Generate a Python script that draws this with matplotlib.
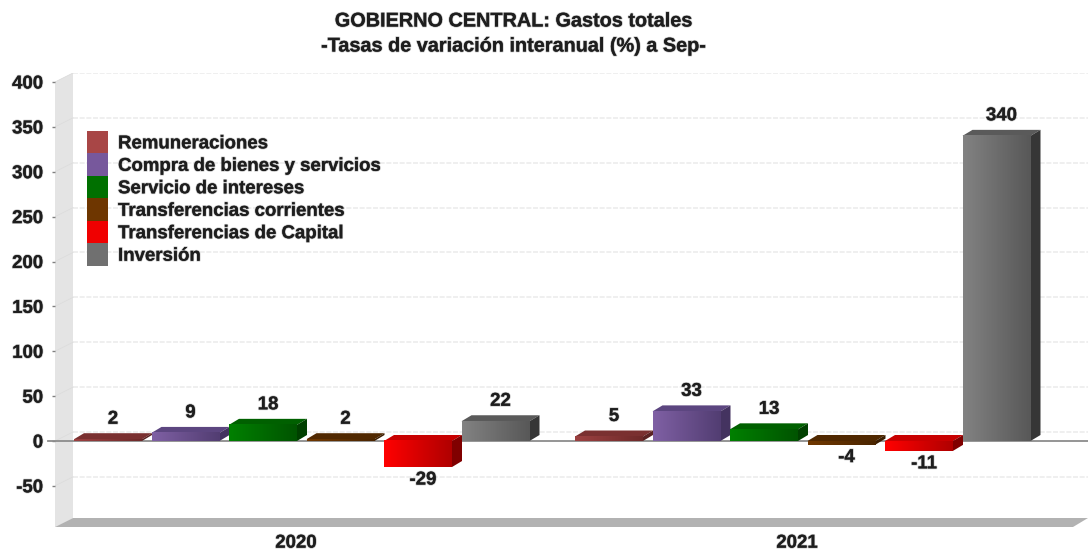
import matplotlib
matplotlib.use("Agg")
import matplotlib.pyplot as plt
import matplotlib.patheffects as pe
from matplotlib.colors import LinearSegmentedColormap
from matplotlib.patches import Patch
import numpy as np

plt.rcParams['font.family'] = ['Liberation Sans', 'DejaVu Sans']

years = ['2020', '2021']
categories = ['Remuneraciones', 'Compra de bienes y servicios', 'Servicio de intereses',
              'Transferencias corrientes', 'Transferencias de Capital', 'Inversión']
values_2020 = [2, 9, 18, 2, -29, 22]
values_2021 = [5, 33, 13, -4, -11, 340]
yticks = [-50, 0, 50, 100, 150, 200, 250, 300, 350, 400]

# light, dark (front gradient), side, top
light = ['#9c4040', '#7f60a4', '#008000', '#703800', '#ff0000', '#828282']
dark = ['#6e2a2a', '#523d72', '#005400', '#4a2500', '#b00000', '#585858']
side = ['#5a2222', '#443360', '#004000', '#3a1c00', '#800000', '#363636']
top = ['#7a3030', '#5c4680', '#006000', '#502800', '#c80000', '#5a5a5a']
legend_col = ['#a84646', '#77589c', '#007000', '#6e3600', '#f00000', '#707070']

W, H = 1088, 550
L, R, T, B = 55, 1088, 73, 527
px_y = 0.8975
px_x = 501
x0_px, y0_px = 296, 441

fig = plt.figure(figsize=(W / 100, H / 100), dpi=100, facecolor='white')
ax = fig.add_axes([L / W, 1 - B / H, (R - L) / W, (B - T) / H])
xlim = ((L - x0_px) / px_x, (R - x0_px) / px_x)
ylim = ((y0_px - B) / px_y, (y0_px - T) / px_y)

# depth of the box and of the bars, in data units
wall_dx, wall_dy = 18 / px_x, 9 / px_y
bar_dx, bar_dy = 10 / px_x, 6 / px_y
bar_w = 68 / px_x
pitch = 77.5 / px_x
first = -222 / px_x
label_dx = 5 / px_x

# walls
ax.fill([xlim[0], xlim[0] + wall_dx, xlim[0] + wall_dx, xlim[0]],
        [ylim[0], ylim[0] + wall_dy, 400 + wall_dy, 400], color='#e4e4e4', lw=0, zorder=1)
ax.fill([xlim[0], xlim[0] + wall_dx, xlim[1], xlim[1] - 15 / px_x],
        [ylim[0], ylim[0] + wall_dy, ylim[0] + wall_dy, ylim[0]], color='#b2b2b2', lw=0, zorder=1)
for v in yticks:
    ax.plot([xlim[0] + wall_dx, xlim[1]], [v + wall_dy, v + wall_dy], color='#ececec', lw=1.2,
            ls=(0, (3, 1)), zorder=1)
    ax.plot([xlim[0], xlim[0] + wall_dx], [v, v + wall_dy], color='#dcdcdc', lw=0.6, zorder=1)

# zero line
ax.plot([xlim[0] - 7 / px_x, xlim[1]], [0, 0], color='#8c8c8c', lw=1.3, zorder=2, clip_on=False)

txt_fx = [pe.withStroke(linewidth=1.2, foreground='#00000038')]
FS = 13.4

for g, vals in enumerate([values_2020, values_2021]):
    for i, v in enumerate(vals):
        x = g + first + i * pitch
        hi = max(v, 0)
        lo = min(v, 0)
        # top face and side face
        ax.fill([x, x + bar_dx, x + bar_w + bar_dx, x + bar_w],
                [hi, hi + bar_dy, hi + bar_dy, hi], color=top[i], lw=0, zorder=3)
        ax.fill([x + bar_w, x + bar_w + bar_dx, x + bar_w + bar_dx, x + bar_w],
                [lo, lo + bar_dy, hi + bar_dy, hi], color=side[i], lw=0, zorder=3)
        # front face
        ax.bar(x, v, width=bar_w, align='edge', color=light[i], lw=0, zorder=4)
        cmap = LinearSegmentedColormap.from_list('f', [light[i], dark[i]])
        ax.imshow(np.linspace(0, 1, 64).reshape(1, -1), cmap=cmap, aspect='auto',
                  extent=(x, x + bar_w, lo, hi), zorder=4.5, interpolation='bilinear')
        # value label
        if v >= 0:
            ax.annotate(str(v), (x + bar_w / 2 + label_dx, hi + bar_dy), xytext=(0, 14 * 0.72),
                        textcoords='offset points', ha='center', va='center', fontsize=FS,
                        fontweight='bold', color='#1e1e1e', path_effects=txt_fx, zorder=6)
        else:
            ax.annotate(str(v), (x + bar_w / 2 + label_dx, lo), xytext=(0, -13 * 0.72),
                        textcoords='offset points', ha='center', va='center', fontsize=FS,
                        fontweight='bold', color='#1e1e1e', path_effects=txt_fx, zorder=6)

ax.set_xlim(xlim)
ax.set_ylim(ylim)
for s in ax.spines.values():
    s.set_visible(False)
ax.patch.set_visible(False)

ax.set_yticks(yticks)
ax.set_yticklabels([str(v) for v in yticks], fontsize=FS, fontweight='bold', color='#1e1e1e',
                   path_effects=txt_fx)
ax.tick_params(axis='y', length=2.5, width=1, color='#808080', pad=6)
ax.set_xticks([0, 1])
ax.set_xticklabels(years, fontsize=FS, fontweight='bold', color='#1e1e1e', path_effects=txt_fx)
ax.tick_params(axis='x', length=0, pad=5.5)

handles = [Patch(facecolor=c, edgecolor='none', label=n) for c, n in zip(legend_col, categories)]
leg = ax.legend(handles=handles, loc='upper left', bbox_to_anchor=((87 - L) / (R - L), (B - 131) / (B - T)),
                frameon=False, borderaxespad=0, borderpad=0, labelspacing=0,
                handlelength=21 / 100 * 72 / FS, handleheight=1.48, handletextpad=0.54,
                prop={'weight': 'bold', 'size': FS})
for t in leg.get_texts():
    t.set_color('#1e1e1e')
    t.set_path_effects(txt_fx)

fig.text(514 / W, 1 - 21 / H, 'GOBIERNO CENTRAL: Gastos totales', ha='center', va='center',
         fontsize=14.3, fontweight='bold', color='#1e1e1e', path_effects=txt_fx)
fig.text(514 / W, 1 - 46 / H, '-Tasas de variación interanual (%) a Sep-', ha='center', va='center',
         fontsize=14.3, fontweight='bold', color='#1e1e1e', path_effects=txt_fx)

fig.savefig('out.png', dpi=100)
